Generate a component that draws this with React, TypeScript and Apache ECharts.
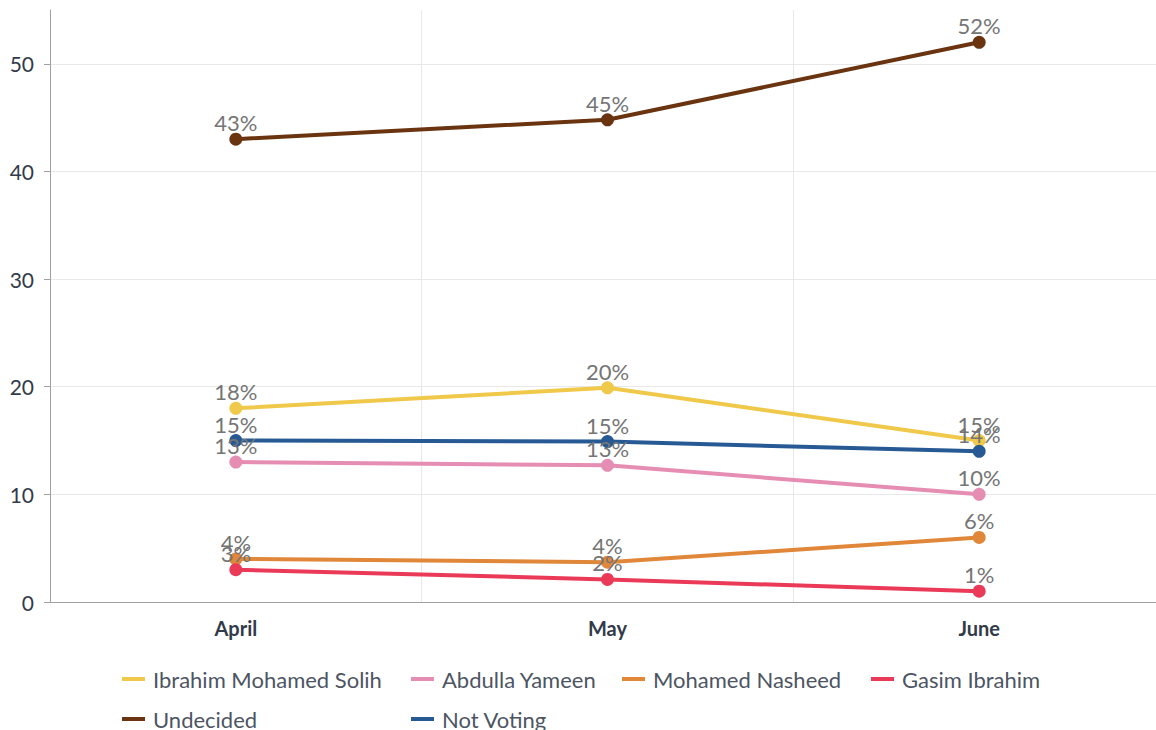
import React, { useEffect, useRef } from "react";
import * as echarts from "echarts";

const months = ["April", "May", "June"];
const solih = [18, 19.9, 15];
const yameen = [13, 12.7, 10];
const nasheed = [4, 3.7, 6];
const gasim = [3, 2.1, 1];
const undecided = [43, 44.8, 52];
const notVoting = [15, 14.9, 14];

const seriesNames = [
  "Ibrahim Mohamed Solih",
  "Abdulla Yameen",
  "Mohamed Nasheed",
  "Gasim Ibrahim",
  "Undecided",
  "Not Voting",
];
const seriesData = [solih, yameen, nasheed, gasim, undecided, notVoting];
const colors = ["#f0c84a", "#e58db3", "#e0873a", "#ea3a58", "#6a3410", "#275a94"];

// legend slot layout (column-aligned, two rows)
const legendLeft = [122, 411, 622, 871, 122, 411];
const legendTop = [668, 668, 668, 668, 708, 708];

export default function App() {
  const ref = useRef<HTMLDivElement>(null);
  useEffect(() => {
    if (!ref.current) return;
    const chart = echarts.init(ref.current, undefined, { renderer: "svg" });
    chart.setOption({
      animation: false,
      color: colors,
      textStyle: { fontFamily: "Lato" },
      grid: { left: 50, right: 0, top: 10, bottom: 128, containLabel: false },
      xAxis: {
        type: "category",
        data: months,
        boundaryGap: true,
        axisLine: { lineStyle: { color: "#a0a0a0", width: 1 } },
        axisTick: { alignWithLabel: true, length: 6, lineStyle: { color: "#a0a0a0" } },
        axisLabel: { color: "#333a48", fontSize: 20, fontWeight: "bold", margin: 16, fontFamily: "Lato" },
        splitLine: { show: true, lineStyle: { color: "#e8e8e8" } },
      },
      yAxis: {
        type: "value",
        min: 0,
        max: 55,
        interval: 10,
        axisLine: { show: true, lineStyle: { color: "#a0a0a0", width: 1 } },
        axisTick: { show: true, length: 6, lineStyle: { color: "#a0a0a0" } },
        axisLabel: {
          color: "#333a48",
          fontSize: 21,
          margin: 16,
          fontFamily: "Lato",
          showMaxLabel: false,
        },
        splitLine: { show: true, showMaxLine: false, lineStyle: { color: "#e8e8e8" } },
      },
      legend: seriesNames.map((name, i) => ({
        left: legendLeft[i],
        top: legendTop[i],
        padding: 0,
        icon: "rect",
        itemWidth: 23,
        itemHeight: 4,
        textStyle: { color: "#4d5563", fontSize: 22, fontFamily: "Lato", lineHeight: 22, padding: [0, 0, 0, 3] },
        data: [name],
      })),
      series: seriesNames.map((name, i) => ({
        name,
        type: "line",
        data: seriesData[i],
        symbol: "circle",
        symbolSize: 13,
        lineStyle: { width: 4 },
        itemStyle: { color: colors[i] },
        label: {
          show: true,
          position: "top",
          distance: -1,
          color: "#757575",
          fontSize: 22,
          fontFamily: "Lato",
          formatter: (p: any) => Math.round(p.value) + "%",
        },
      })),
    });
    return () => chart.dispose();
  }, []);
  return (
    <div style={{ position: "fixed", left: 0, top: 0, width: 1156, height: 730, overflow: "hidden", background: "#fff" }}>
      <div ref={ref} style={{ width: 1165, height: 730 }} />
    </div>
  );
}
